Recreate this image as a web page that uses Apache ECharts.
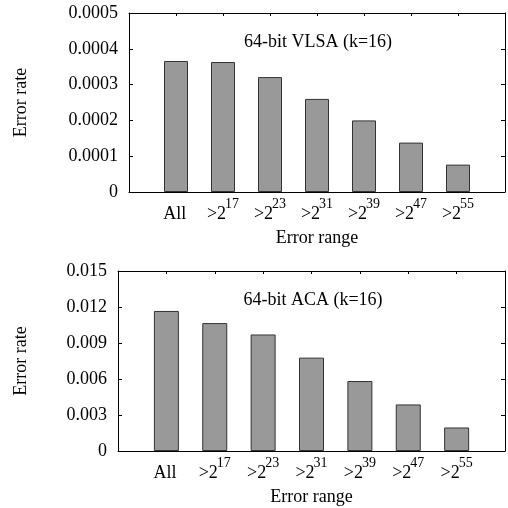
<!DOCTYPE html>
<html>
<head>
<meta charset="utf-8">
<script src="https://cdn.jsdelivr.net/npm/echarts@6/dist/echarts.min.js"></script>
<style>
  html, body { margin: 0; padding: 0; background: #fff; }
  #chart { width: 508px; height: 508px; }
</style>
</head>
<body>
<div id="chart"></div>
<script>
// error range buckets: base text and superscript exponent
var categories = ['All', '>2', '>2', '>2', '>2', '>2', '>2']
var exponents = ['', '17', '23', '31', '39', '47', '55']
// error rates
var vlsaRates = [0.000366, 0.000363, 0.000321, 0.000260, 0.000200, 0.000138, 0.0000765]
var acaRates = [0.01167, 0.01066, 0.00971, 0.00778, 0.00583, 0.00388, 0.00196]
var vlsaTitle = '64-bit VLSA (k=16)'
var acaTitle = '64-bit ACA (k=16)'

var FONT = 'Liberation Serif'

function catLabel (v) {
  var i = Math.round(v)
  if (i < 0 || i >= categories.length) return ''
  // blank superscript keeps "All" on the same baseline as the others
  if (!exponents[i]) return '{b|' + categories[i] + '}{s| }'
  return '{b|' + categories[i] + '}{s|' + exponents[i] + '}'
}

function xAxes (gridIndex) {
  return [
    {
      type: 'value', gridIndex: gridIndex, position: 'bottom',
      min: -1, max: 7, interval: 1,
      name: 'Error range', nameLocation: 'middle', nameGap: 37,
      nameTextStyle: { fontFamily: FONT, fontSize: 18, color: '#000' },
      axisLine: { show: true, onZero: false, lineStyle: { color: '#000', width: 1 } },
      axisTick: { show: false },
      splitLine: { show: false },
      axisLabel: {
        margin: 5,
        formatter: catLabel,
        rich: {
          b: { fontFamily: FONT, fontSize: 18, color: '#000', verticalAlign: 'bottom' },
          s: { fontFamily: FONT, fontSize: 14, color: '#000', verticalAlign: 'bottom', padding: [0, 0, 12, -1] }
        }
      }
    },
    {
      type: 'value', gridIndex: gridIndex, position: 'top',
      min: -1, max: 7, interval: 1,
      axisLine: { show: true, onZero: false, lineStyle: { color: '#000', width: 1 } },
      axisTick: { show: true, inside: true, length: 3, lineStyle: { color: '#000' } },
      axisLabel: { show: false },
      splitLine: { show: false }
    }
  ]
}

function yAxes (gridIndex, max, interval, gap) {
  return [
    {
      type: 'value', gridIndex: gridIndex, position: 'left',
      min: 0, max: max, interval: interval,
      name: 'Error rate', nameLocation: 'middle', nameGap: gap,
      nameTextStyle: { fontFamily: FONT, fontSize: 18, color: '#000' },
      axisLine: { show: true, onZero: false, lineStyle: { color: '#000', width: 1 } },
      axisTick: { show: true, inside: true, length: 4, lineStyle: { color: '#000' } },
      axisLabel: { margin: 11, fontFamily: FONT, fontSize: 18, color: '#000' },
      splitLine: { show: false }
    },
    {
      type: 'value', gridIndex: gridIndex, position: 'right',
      min: 0, max: max, interval: interval,
      axisLine: { show: true, onZero: false, lineStyle: { color: '#000', width: 1 } },
      axisTick: { show: true, inside: true, length: 4, lineStyle: { color: '#000' } },
      axisLabel: { show: false },
      splitLine: { show: false }
    }
  ]
}

function barSeries (values, xi, yi, width) {
  return {
    type: 'bar',
    xAxisIndex: xi,
    yAxisIndex: yi,
    barWidth: width,
    data: values.map(function (v, i) { return [i, v] }),
    itemStyle: { color: '#999999', borderColor: '#333333', borderWidth: 1 },
    silent: true
  }
}

var chart = echarts.init(document.getElementById('chart'), null, { renderer: 'canvas' })
chart.setOption({
  animation: false,
  grid: [
    { left: 129, top: 13, width: 384, height: 179 },
    { left: 118, top: 271, width: 392, height: 180 }
  ],
  xAxis: xAxes(0).concat(xAxes(1)),
  yAxis: yAxes(0, 0.0005, 0.0001, 99).concat(yAxes(1, 0.015, 0.003, 88)),
  series: [
    barSeries(vlsaRates, 0, 0, 24),
    barSeries(acaRates, 2, 2, 25)
  ],
  graphic: [
    {
      type: 'text', x: 318, y: 42,
      style: { text: vlsaTitle, font: '18px "Liberation Serif"', fill: '#000', align: 'center', verticalAlign: 'middle' }
    },
    {
      type: 'text', x: 313, y: 300,
      style: { text: acaTitle, font: '18px "Liberation Serif"', fill: '#000', align: 'center', verticalAlign: 'middle' }
    }
  ]
})
</script>
</body>
</html>
